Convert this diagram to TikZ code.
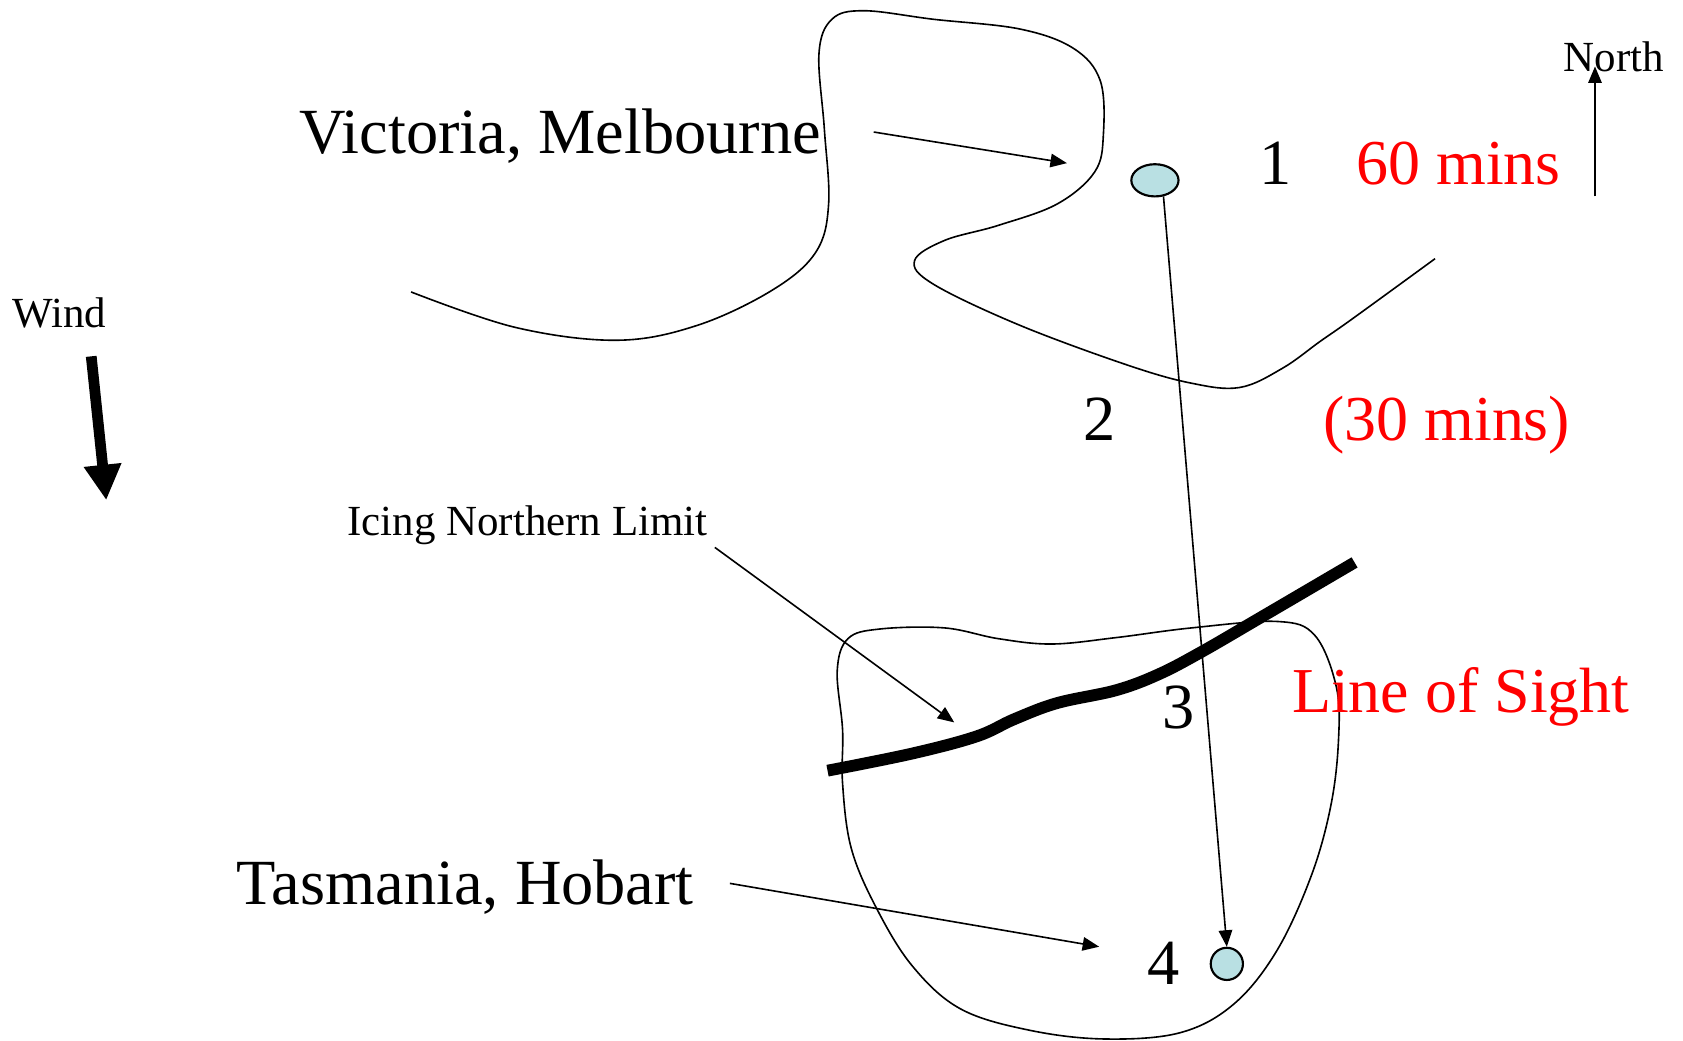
\documentclass[tikz,border=0pt]{standalone}
\usepackage{fontspec}
\setmainfont{Liberation Serif}
\usetikzlibrary{arrows,arrows.meta,shapes.geometric}

\definecolor{sitefill}{HTML}{B9E0E3}

\begin{document}
\begin{tikzpicture}[x=0.5pt,y=-0.5pt,>=triangle 45,line width=0.75pt,
    big/.style={inner sep=0pt,anchor=base west,font=\fontsize{30}{36}\selectfont},
    bigred/.style={big,red,font=\fontsize{29.8}{36}\selectfont},
    small/.style={inner sep=0pt,anchor=base west,font=\fontsize{20}{24}\selectfont},
    num/.style={big,anchor=base},
    site/.style={draw,ellipse,fill=sitefill,inner sep=0pt,line width=1pt}]
  \useasboundingbox (0,0) rectangle (1568,969);

  % coast lines
  \draw plot[smooth,tension=0.6] coordinates {(383,272) (480,305) (575,317) (650,303) (720,270) (760,235)
        (772,190) (768,120) (763,50) (775,18) (805,10) (870,18) (950,27) (1000,45) (1025,75) (1028,125)
        (1020,160) (985,190) (930,210) (880,224) (852,243) (870,265) (950,303) (1050,340) (1110,357)
        (1155,361) (1195,343) (1230,318) (1260,297) (1337,241)};
  \draw plot[smooth cycle,tension=0.6] coordinates {(780,625) (790,595) (820,586) (880,585) (930,595) (980,600)
        (1040,594) (1110,585) (1190,579) (1225,592) (1245,640) (1247,690) (1240,750) (1222,815) (1190,885)
        (1150,935) (1100,962) (1030,968) (960,960) (895,940) (850,900) (816,845) (793,790) (785,730) (785,680)};

  % icing limit
  \draw[line width=5.5pt] plot[smooth,tension=0.6] coordinates {(771,718) (850,702) (910,686) (945,670)
        (985,655) (1040,643) (1080,628) (1120,607) (1175,575) (1262,524)};

  \node[site,minimum width=22pt,minimum height=15pt] (mel) at (1076,168) {};
  \node[site,minimum width=15pt,minimum height=15pt] (hob) at (1143,898) {};

  \node[big]   (vic)   at (278,143)  {Victoria, Melbourne};
  \node[big]   (tas)   at (220,843)  {Tasmania, Hobart};
  \node[small] (icing) at (323,499)  {Icing Northern Limit};
  \node[small] (wind)  at (11,305)   {Wind};
  \node[small] (north) at (1456,67)  {North};
  \node[num]   (p1)    at (1188,172) {1};
  \node[num]   (p2)    at (1024,410) {2};
  \node[num]   (p3)    at (1098,679) {3};
  \node[num]   (p4)    at (1084,917) {4};
  \node[bigred] (t1)   at (1263,172) {60 mins};
  \node[bigred] (t2)   at (1232,410) {(30 mins)};
  \node[bigred] (los)  at (1203,664) {Line of Sight};

  \coordinate (vicA)   at (814,123);
  \coordinate (vicB)   at (994,152);
  \coordinate (tasA)   at (680,823);
  \coordinate (tasB)   at (1024,882);
  \coordinate (icingA) at (666,510);
  \coordinate (icingB) at (889,673);
  \coordinate (windA)  at (85,332);
  \coordinate (windB)  at (99,466);
  \coordinate (northA) at (1486,183);
  \coordinate (northB) at (1486,62);

  \path[->]
        (vicA)    edge (vicB)
        (tasA)    edge (tasB)
        (icingA)  edge (icingB)
        (northA)  edge (northB)
        (mel.-62) edge (hob.north);
  \draw[-{Triangle[length=16.5pt,width=16.5pt]},line width=5pt] (windA) -- (windB);
\end{tikzpicture}
\end{document}
